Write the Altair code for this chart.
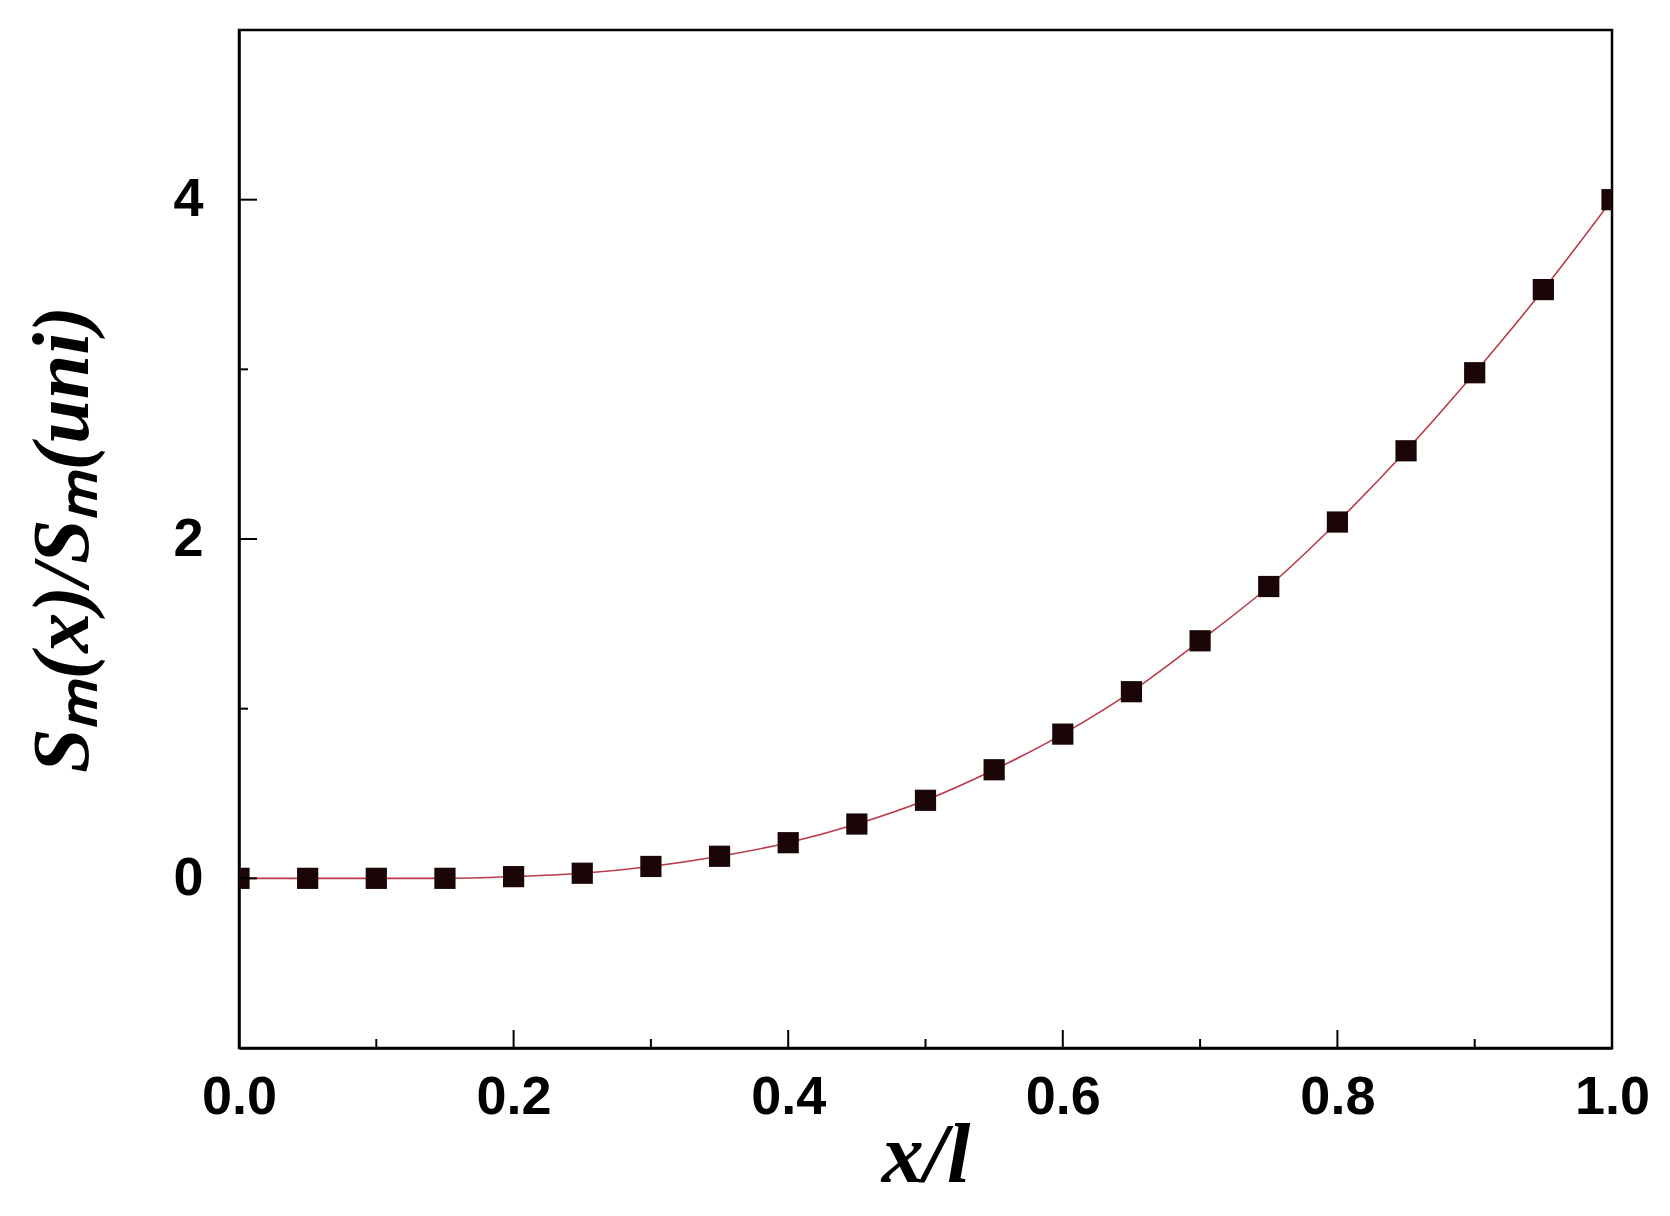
import altair as alt
import pandas as pd

x_vals = [0.0, 0.05, 0.1, 0.15, 0.2, 0.25, 0.3, 0.35, 0.4, 0.45, 0.5,
          0.55, 0.6, 0.65, 0.7, 0.75, 0.8, 0.85, 0.9, 0.95, 1.0]
y_vals = [0.0, 0.0, 0.0, 0.0, 0.01, 0.03, 0.07, 0.13, 0.21, 0.32, 0.46,
          0.64, 0.85, 1.10, 1.40, 1.72, 2.10, 2.52, 2.98, 3.47, 4.0]

x_major = [0.0, 0.2, 0.4, 0.6, 0.8, 1.0]
x_minor = [0.1, 0.3, 0.5, 0.7, 0.9]
y_major = [0, 2, 4]
y_minor = [1, 3]

df = pd.DataFrame({"x": x_vals, "y": y_vals})
xt_major = pd.DataFrame({"x": x_major[1:-1]})
xt_minor = pd.DataFrame({"x": x_minor})
yt_major = pd.DataFrame({"y": y_major})
yt_minor = pd.DataFrame({"y": y_minor})

W, H = 1373, 1018
MAJ, MIN = 18, 9
LABEL_FONT = "Liberation Sans"
TITLE_FONT = "Liberation Serif"

xscale = alt.Scale(domain=[0, 1], nice=False, zero=False)
yscale = alt.Scale(domain=[-1, 5], nice=False, zero=False)

x_axis = alt.Axis(orient="bottom", values=x_major, format=".1f", ticks=False,
                  domain=True, domainColor="black", domainWidth=2.5,
                  labelFont=LABEL_FONT, labelFontSize=54, labelFontWeight="bold",
                  labelColor="black", labelPadding=22, labelFlush=False,
                  title="x/l", titleFont=TITLE_FONT, titleFontSize=84,
                  titleFontWeight="bold", titleFontStyle="italic", titleColor="black",
                  titlePadding=-9, grid=False)
y_axis = alt.Axis(orient="left", values=y_major, format="d", ticks=False,
                  domain=True, domainColor="black", domainWidth=2.5,
                  labelFont=LABEL_FONT, labelFontSize=54, labelFontWeight="bold",
                  labelColor="black", labelPadding=36, labelFlush=False,
                  title="Sₘ(x)/Sₘ(uni)", titleFont=TITLE_FONT, titleFontSize=80,
                  titleFontWeight="bold", titleFontStyle="italic", titleColor="black",
                  titlePadding=68, grid=False)

X = alt.X("x:Q", scale=xscale, axis=x_axis)
Y = alt.Y("y:Q", scale=yscale, axis=y_axis)

line = alt.Chart(df).mark_line(color="#b83a4a", strokeWidth=1.6, interpolate="monotone", clip=True).encode(
    x=X, y=Y)

points = alt.Chart(df).mark_square(size=450, color="#1a0606", opacity=1, clip=True).encode(
    x=X, y=Y)

def xticks(data, length):
    return alt.Chart(data).mark_rule(color="black", strokeWidth=2).encode(
        x=X, y=alt.value(H - length), y2=alt.value(H))

def yticks(data, length):
    return alt.Chart(data).mark_rule(color="black", strokeWidth=2).encode(
        y=Y, x=alt.value(0), x2=alt.value(length))

chart = alt.layer(
    line, points,
    xticks(xt_major, MAJ), xticks(xt_minor, MIN),
    yticks(yt_major, MAJ), yticks(yt_minor, MIN),
).properties(
    width=W, height=H, autosize="none",
    padding={"left": 231, "top": 22, "right": 50, "bottom": 160},
    background="white",
).configure_view(stroke="black", strokeWidth=2.5)

chart.save("out.html", embed_options={"renderer": "svg", "actions": False})
